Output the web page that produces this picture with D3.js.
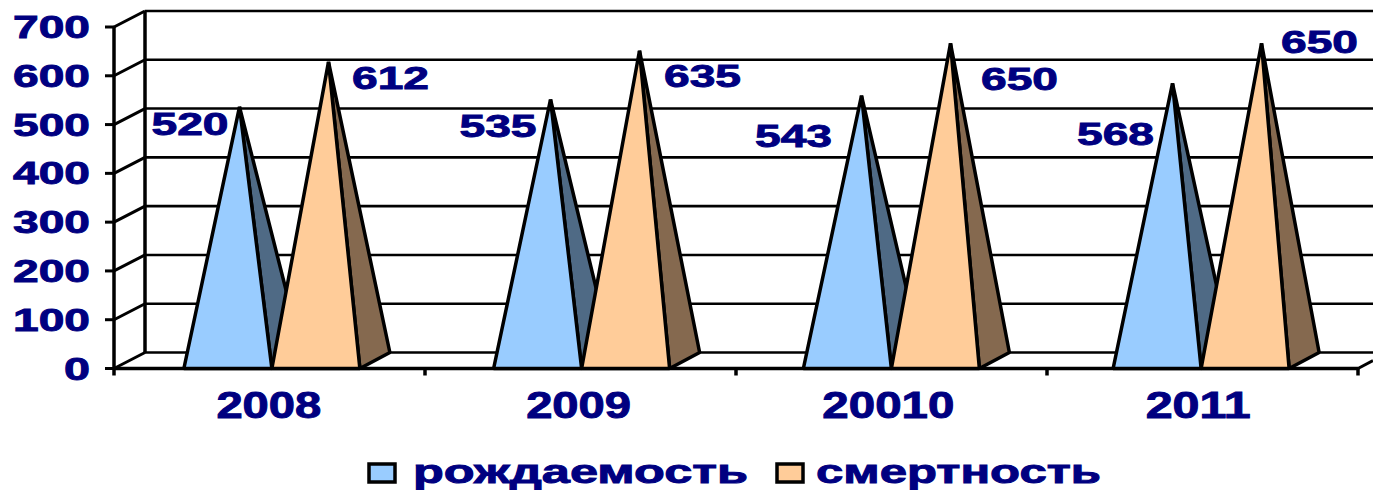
<!DOCTYPE html>
<html>
<head>
<meta charset="utf-8">
<script src="https://cdn.jsdelivr.net/npm/d3@7"></script>
<style>
  html, body { margin: 0; background: #fff; overflow: hidden; }
  svg { display: block; }
  text { font-family: "Liberation Sans", Arial, sans-serif; font-weight: bold; fill: #000080; stroke: #000080; stroke-width: 0.9px; }
</style>
</head>
<body>
<script>
// данные
const years = ["2008", "2009", "20010", "2011"];
const births = [520, 535, 543, 568];
const deaths = [612, 635, 650, 650];
const seriesNames = ["рождаемость", "смертность"];
const ticks = [0, 100, 200, 300, 400, 500, 600, 700];

const width = 1373;
const height = 490;
const depthX = 31;
const depthY = 16;
const barW = 88;

const svg = d3.select("body").append("svg")
    .attr("width", width)
    .attr("height", height);

// вершины и деления идут по полной оси, основания и подписи чуть плотнее
const x = d3.scaleBand().domain(years).range([114, 1358]);
const xBase = d3.scaleBand().domain(years).range([114, 1353]);
const y = d3.scaleLinear().domain([0, 700]).range([368.5, 27]);

const line = (g, x1, y1, x2, y2, w) => g.append("line")
    .attr("x1", x1).attr("y1", y1).attr("x2", x2).attr("y2", y2)
    .attr("stroke", "#000").attr("stroke-width", w);

// стенки и сетка
const grid = svg.append("g");
ticks.forEach(t => {
    const yy = y(t);
    line(grid, 145, yy - depthY, width, yy - depthY, 2.6);
    line(grid, 114, yy, 145, yy - depthY, 3);
    line(grid, 105, yy, 114, yy, 3);
});
line(grid, 145, y(700) - depthY, 145, y(0) - depthY, 3.5);
line(grid, 114, y(700), 114, y(0) + 1, 3.5);
line(grid, 114, y(0), 1358, y(0), 3.5);
line(grid, 1358, y(0), width, y(0) - 8, 3);
[0, 1, 2, 3, 4].forEach(i => {
    const xx = 114 + i * x.step();
    line(grid, xx, y(0), xx, y(0) + 7, 3.5);
});

// пирамиды
const series = [
    { values: births, front: "#99CCFF", side: "#4F6A85", left: -barW, apex: -30,
      labelDx: [-49.5, -52.5, -68, -57], labelDy: [28, 38, 51, 62] },
    { values: deaths, front: "#FFCC99", side: "#85694F", left: 0, apex: 59,
      labelDx: [62, 63, 69, 58], labelDy: [27, 36, 47, 10] }
];

const pyramids = svg.append("g");
years.forEach((yr, i) => {
    const c = xBase(yr) + xBase.bandwidth() / 2 + 3;
    const top = x(yr) + x.bandwidth() / 2;
    series.forEach(s => {
        const x0 = c + s.left;
        const x1 = x0 + barW;
        const base = y(0);
        const ax = top + s.apex;
        const ay = y(s.values[i]) - depthY / 2;
        pyramids.append("path")
            .attr("d", `M${x1},${base}L${x1 + depthX - 1},${base - depthY}L${ax},${ay}Z`)
            .attr("fill", s.side)
            .attr("stroke", "#000").attr("stroke-width", 3.5).attr("stroke-linejoin", "bevel");
        pyramids.append("path")
            .attr("d", `M${x0},${base}L${x1},${base}L${ax},${ay}Z`)
            .attr("fill", s.front)
            .attr("stroke", "#000").attr("stroke-width", 3.5).attr("stroke-linejoin", "bevel");
    });
});

// подписи значений
const stretched = (g, txt, xx, yy, size, len, anchor) => g.append("text")
    .attr("x", xx).attr("y", yy)
    .attr("font-size", size)
    .attr("text-anchor", anchor || "middle")
    .attr("textLength", len)
    .attr("lengthAdjust", "spacingAndGlyphs")
    .text(txt);

const labels = svg.append("g");
years.forEach((yr, i) => {
    const top = x(yr) + x.bandwidth() / 2;
    series.forEach(s => {
        const ax = top + s.apex;
        const ay = y(s.values[i]) - depthY / 2;
        stretched(labels, s.values[i], ax + s.labelDx[i], ay + s.labelDy[i], 32, 77);
    });
});

// ось Y
const yAxis = svg.append("g")
    .attr("transform", "translate(90,0)")
    .call(d3.axisLeft(y).tickValues(ticks).tickSize(0).tickPadding(0));
yAxis.select(".domain").remove();
yAxis.selectAll("text")
    .attr("x", 0).attr("dy", 0).attr("y", 10.5)
    .attr("font-size", 32)
    .attr("font-family", null)
    .attr("textLength", d => d === 0 ? 26 : 77)
    .attr("lengthAdjust", "spacingAndGlyphs");

// ось X
const xAxis = svg.append("g")
    .attr("transform", "translate(0,418)")
    .call(d3.axisBottom(xBase).tickSize(0).tickPadding(0));
xAxis.select(".domain").remove();
xAxis.selectAll("text")
    .attr("y", 0).attr("dy", 0)
    .attr("font-size", 36)
    .attr("textLength", d => d.length === 5 ? 132 : 105)
    .attr("lengthAdjust", "spacingAndGlyphs");

// легенда
const legend = svg.append("g");
[[369, 413, 335], [777, 816, 285]].forEach((p, i) => {
    legend.append("rect")
        .attr("x", p[0]).attr("y", 464)
        .attr("width", 26).attr("height", 18)
        .attr("fill", series[i].front)
        .attr("stroke", "#000").attr("stroke-width", 3.5);
    stretched(legend, seriesNames[i], p[1], 483, 33, p[2], "start");
});
</script>
</body>
</html>
